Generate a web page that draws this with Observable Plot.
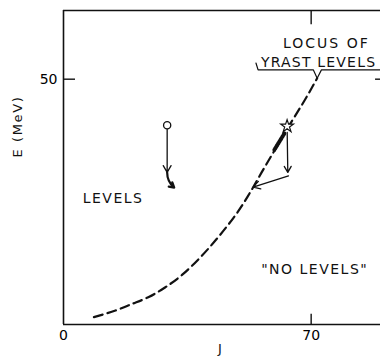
<!DOCTYPE html>
<html>
<head>
<meta charset="utf-8">
<script src="https://cdn.jsdelivr.net/npm/d3@7"></script>
<script src="https://cdn.jsdelivr.net/npm/@observablehq/plot@0.6"></script>
<style>
  html, body { margin: 0; padding: 0; background: #fff; }
  #chart svg { display: block; }
</style>
</head>
<body>
<div id="chart"></div>
<script>
// Yrast locus (dashed curve): angular momentum J and energy E (MeV)
const yrastJ = [8.6, 14.7, 19.4, 24.1, 28.8, 33.5, 38.7, 43.5, 48.0, 52.0, 56, 60, 64, 68, 71.7];
const yrastE = [1.5, 2.85, 4.2, 5.6, 7.6, 10.1, 13.7, 17.6, 21.7, 26.0, 31.0, 35.9, 40.8, 45.5, 50.2];

// Axis extents and ticks
const xDomain = [0, 89.6];
const yDomain = [0, 64];
const xTicks = [0, 70];
const yTicks = [50];

// Open circle decay (start, end of straight drop, end of curved arrow)
const circlePt = {J: 29.3, E: 40.6};
const circleDrop = {J: 29.3, E: 31.0};
const circleBendEnd = {J: 31.3, E: 27.9};

// Star decay (on the yrast line)
const starPt = {J: 63.2, E: 40.4};
const starDrop = {J: 63.4, E: 31.0};
const starCorner = {J: 63.6, E: 30.3};
const starEnd = {J: 53.6, E: 28.0};
const starSquiggle = [{J: 62.4, E: 38.9}, {J: 59.6, E: 35.6}];

// Brace under "LOCUS OF YRAST LEVELS"
const braceJ = [54.4, 55.0, 70.6, 71.7, 72.9, 89.6];
const braceE = [53.3, 51.9, 51.9, 50.2, 51.9, 51.9];

// Text labels
const labels = [
  {text: "LOCUS OF", J: 74.3, E: 57.3},
  {text: "YRAST LEVELS", J: 72.1, E: 53.5},
  {text: "LEVELS", J: 14.0, E: 25.6},
  {text: "\"NO LEVELS\"", J: 71.0, E: 11.3}
];
const labelSpacing = {"LOCUS OF": "2px", "YRAST LEVELS": "1.2px", "LEVELS": "1.5px", "\"NO LEVELS\"": "1.5px", "J": "0px", "E (MeV)": "1.6px"};

const yrast = yrastJ.map((J, i) => ({J, E: yrastE[i]}));
const brace = braceJ.map((J, i) => ({J, E: braceE[i]}));

const chart = Plot.plot({
  width: 380,
  height: 356,
  marginLeft: 63,
  marginRight: 0,
  marginTop: 10,
  marginBottom: 32,
  style: {fontFamily: "DejaVu Sans", fontSize: "14px", color: "#000", background: "#fff", overflow: "hidden"},
  x: {domain: xDomain, ticks: xTicks, tickSize: 0, tickPadding: 6, tickFormat: d => String(d), label: null},
  y: {domain: yDomain, ticks: yTicks, tickSize: 0, tickPadding: 6, tickFormat: d => String(d), label: null},
  marks: [
    // frame lines (left, bottom, top)
    Plot.ruleX([xDomain[0]], {y1: yDomain[0], y2: yDomain[1], stroke: "#111", strokeWidth: 1.6}),
    Plot.ruleY([yDomain[0], yDomain[1]], {x1: xDomain[0], x2: xDomain[1], stroke: "#111", strokeWidth: 1.6}),
    // inward ticks
    Plot.ruleX(xTicks.filter(d => d > 0), {x: d => d, y1: yDomain[0], y2: yDomain[0] + 2.1, stroke: "#111", strokeWidth: 1.4}),
    Plot.ruleX(xTicks.filter(d => d > 0), {x: d => d, y1: yDomain[1], y2: yDomain[1] - 2.9, stroke: "#111", strokeWidth: 1.4}),
    Plot.ruleY(yTicks, {y: d => d, x1: xDomain[0], x2: xDomain[0] + 3.4, stroke: "#111", strokeWidth: 1.4}),
    Plot.ruleY(yTicks, {y: d => d, x1: xDomain[1] - 1.4, x2: xDomain[1], stroke: "#111", strokeWidth: 1.4}),
    // yrast dashed curve
    Plot.line(yrast, {x: "J", y: "E", curve: "natural", stroke: "#111", strokeWidth: 2.2, strokeDasharray: "9,5"}),
    // brace
    Plot.line(brace, {x: "J", y: "E", stroke: "#111", strokeWidth: 1.2}),
    // circle decay
    Plot.arrow([0], {x1: circlePt.J, y1: circlePt.E, x2: circleDrop.J, y2: circleDrop.E, insetStart: 4, headLength: 9, stroke: "#111", strokeWidth: 1.3}),
    Plot.arrow([0], {x1: circleDrop.J, y1: circleDrop.E, x2: circleBendEnd.J, y2: circleBendEnd.E, bend: -25, headLength: 7, stroke: "#111", strokeWidth: 2.2}),
    Plot.dot([circlePt], {x: "J", y: "E", r: 3.6, fill: "#fff", stroke: "#111", strokeWidth: 1.3}),
    // star decay
    Plot.line(starSquiggle, {x: "J", y: "E", stroke: "#111", strokeWidth: 4, strokeDasharray: "1.6,1.1"}),
    Plot.arrow([0], {x1: starPt.J, y1: starPt.E, x2: starDrop.J, y2: starDrop.E, insetStart: 6, headLength: 8, stroke: "#111", strokeWidth: 1.3}),
    Plot.arrow([0], {x1: starCorner.J, y1: starCorner.E, x2: starEnd.J, y2: starEnd.E, headLength: 9, stroke: "#111", strokeWidth: 1.3}),
    Plot.dot([starPt], {x: "J", y: "E", symbol: "star", r: 4, fill: "#fff", stroke: "#111", strokeWidth: 1.2}),
    // text labels
    Plot.text(labels, {x: "J", y: "E", text: "text", fontSize: 14, fill: "#111"}),
    // axis labels
    Plot.text(["J"], {frameAnchor: "bottom", dx: -2, dy: 28, text: d => d, fontSize: 13, fill: "#111"}),
    Plot.text(["E (MeV)"], {frameAnchor: "left", dx: -46, dy: -10, rotate: -90, text: d => d, fontSize: 13, fill: "#111"})
  ]
});
d3.select(chart).selectAll("g[aria-label='text'] text").each(function() {
  const s = labelSpacing[this.textContent];
  if (s) this.style.letterSpacing = s;
});
document.getElementById("chart").appendChild(chart);
</script>
</body>
</html>
